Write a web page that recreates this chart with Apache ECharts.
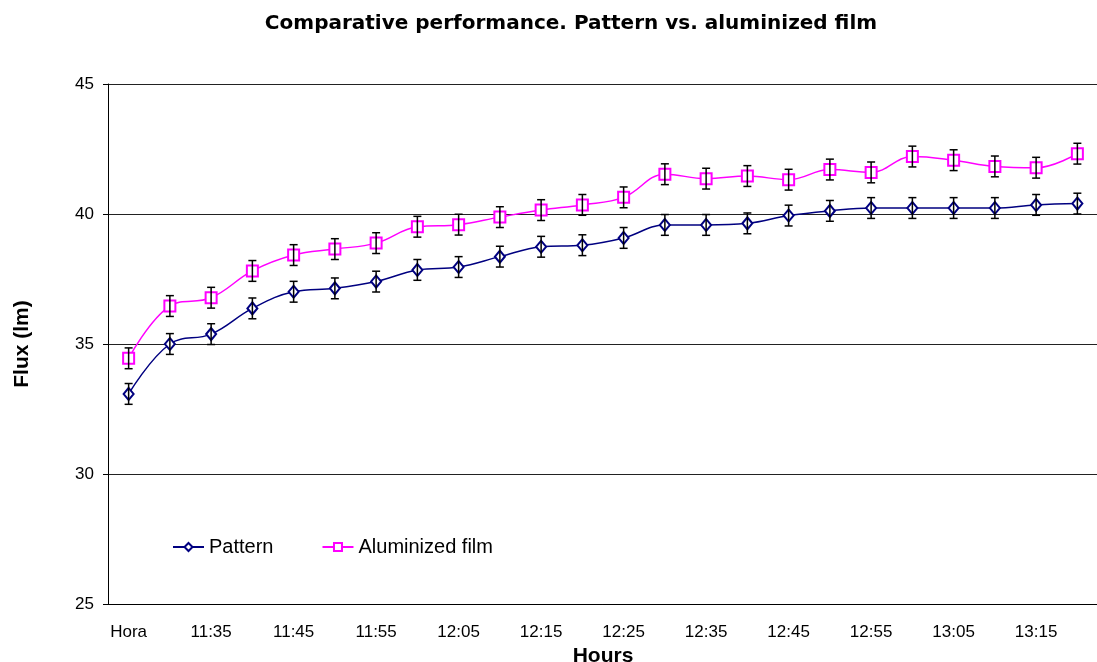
<!DOCTYPE html>
<html>
<head>
<meta charset="utf-8">
<script src="https://cdn.jsdelivr.net/npm/echarts@6/dist/echarts.min.js"></script>
<style>
	html, body { margin: 0; padding: 0; background: #fff; }
	#main { width: 1097px; height: 662px; }
</style>
</head>
<body>
<div id="main"></div>
<script>
// categories on the x axis
var hours = ['Hora', '11:30', '11:35', '11:40', '11:45', '11:50', '11:55', '12:00',
	'12:05', '12:10', '12:15', '12:20', '12:25', '12:30', '12:35', '12:40',
	'12:45', '12:50', '12:55', '13:00', '13:05', '13:10', '13:15', '13:20'];

// Flux (lm) values
var pattern_data = [33.08, 35.00, 35.38, 36.37, 37.01, 37.14, 37.40, 37.85,
	37.96, 38.36, 38.74, 38.80, 39.08, 39.58, 39.58, 39.64,
	39.94, 40.12, 40.23, 40.23, 40.23, 40.23, 40.35, 40.40];

var film_data = [34.45, 36.46, 36.78, 37.81, 38.42, 38.65, 38.88, 39.51,
	39.59, 39.88, 40.15, 40.35, 40.64, 41.53, 41.36, 41.46,
	41.32, 41.71, 41.60, 42.21, 42.07, 41.83, 41.78, 42.32];

// error bar half heights
var pattern_err = [0.4, 0.4, 0.4, 0.4, 0.4, 0.4, 0.4, 0.4,
	0.4, 0.4, 0.4, 0.4, 0.4, 0.4, 0.4, 0.4,
	0.4, 0.4, 0.4, 0.4, 0.4, 0.4, 0.4, 0.4];

var film_err = [0.4, 0.4, 0.4, 0.4, 0.4, 0.4, 0.4, 0.4,
	0.4, 0.4, 0.4, 0.4, 0.4, 0.4, 0.4, 0.4,
	0.4, 0.4, 0.4, 0.4, 0.4, 0.4, 0.4, 0.4];

var y_ticks = [25, 45, 5]; // min, max, interval

var font = 'Liberation Sans, Arial, sans-serif';

function errData(values, errs) {
	var out = [];
	for (var i = 0; i < values.length; i++) {
		out.push([i, values[i] - errs[i], values[i] + errs[i]]);
	}
	return out;
}

// vertical bar with caps
function renderErr(params, api) {
	var lo = api.coord([api.value(0), api.value(1)]);
	var hi = api.coord([api.value(0), api.value(2)]);
	var w = 4;
	var st = { stroke: '#000', lineWidth: 1.5 };
	return {
		type: 'group',
		children: [
			{ type: 'line', shape: { x1: lo[0], y1: lo[1], x2: hi[0], y2: hi[1] }, style: st },
			{ type: 'line', shape: { x1: lo[0] - w, y1: lo[1], x2: lo[0] + w, y2: lo[1] }, style: st },
			{ type: 'line', shape: { x1: hi[0] - w, y1: hi[1], x2: hi[0] + w, y2: hi[1] }, style: st }
		]
	};
}

var myChart = echarts.init(document.getElementById('main'));

var option = {
	animation: false,
	backgroundColor: '#fff',
	title: {
		text: 'Comparative performance. Pattern vs. aluminized film',
		left: 566,
		textAlign: 'center',
		top: 9,
		textStyle: {
			fontFamily: 'DejaVu Sans, sans-serif',
			fontSize: 20,
			fontWeight: 'bold',
			color: '#000'
		}
	},
	legend: {
		data: ['Pattern', 'Aluminized film'],
		left: 172,
		top: 537,
		padding: 0,
		itemWidth: 31,
		itemHeight: 10,
		itemGap: 48,
		textStyle: {
			fontFamily: font,
			fontSize: 20,
			color: '#000'
		}
	},
	grid: {
		left: 108,
		right: -1,
		top: 84,
		bottom: 58,
		outerBoundsMode: 'none'
	},
	xAxis: {
		type: 'category',
		data: hours,
		boundaryGap: true,
		name: 'Hours',
		nameLocation: 'middle',
		nameGap: 37,
		nameTextStyle: {
			fontFamily: font,
			fontSize: 21,
			fontWeight: 'bold',
			color: '#000'
		},
		axisLine: { lineStyle: { color: '#000', width: 1 } },
		axisTick: { interval: 4, length: 5, lineStyle: { color: '#000' } },
		axisLabel: {
			interval: 1,
			margin: 20,
			fontFamily: font,
			fontSize: 17,
			color: '#000'
		},
		splitLine: { show: false }
	},
	yAxis: {
		type: 'value',
		min: y_ticks[0],
		max: y_ticks[1],
		interval: y_ticks[2],
		name: 'Flux (lm)',
		nameLocation: 'middle',
		nameGap: 75,
		nameTextStyle: {
			fontFamily: font,
			fontSize: 21,
			fontWeight: 'bold',
			color: '#000'
		},
		axisLine: { show: true, lineStyle: { color: '#000', width: 1 } },
		axisTick: { show: true, length: 5, lineStyle: { color: '#000' } },
		axisLabel: {
			margin: 14,
			fontFamily: font,
			fontSize: 17,
			color: '#000'
		},
		splitLine: { show: true, lineStyle: { color: '#222', width: 1 } }
	},
	series: [{
			name: 'Pattern',
			type: 'line',
			data: pattern_data,
			smooth: 0.4,
			symbol: 'emptyDiamond',
			symbolSize: [10, 12],
			color: '#000080',
			lineStyle: { color: '#000080', width: 1.5 },
			itemStyle: { color: '#000080', borderColor: '#000080', borderWidth: 1.5 },
			z: 3
		},
		{
			name: 'Aluminized film',
			type: 'line',
			data: film_data,
			smooth: 0.4,
			symbol: 'emptyRect',
			symbolSize: 11,
			color: '#ff00ff',
			lineStyle: { color: '#ff00ff', width: 1.5 },
			itemStyle: { color: '#ff00ff', borderColor: '#ff00ff', borderWidth: 1.5 },
			z: 3
		},
		{
			name: 'pattern_err',
			type: 'custom',
			renderItem: renderErr,
			data: errData(pattern_data, pattern_err),
			encode: { x: 0, y: [1, 2] },
			silent: true,
			z: 4
		},
		{
			name: 'film_err',
			type: 'custom',
			renderItem: renderErr,
			data: errData(film_data, film_err),
			encode: { x: 0, y: [1, 2] },
			silent: true,
			z: 4
		}
	]
};

myChart.setOption(option);
</script>
</body>
</html>
